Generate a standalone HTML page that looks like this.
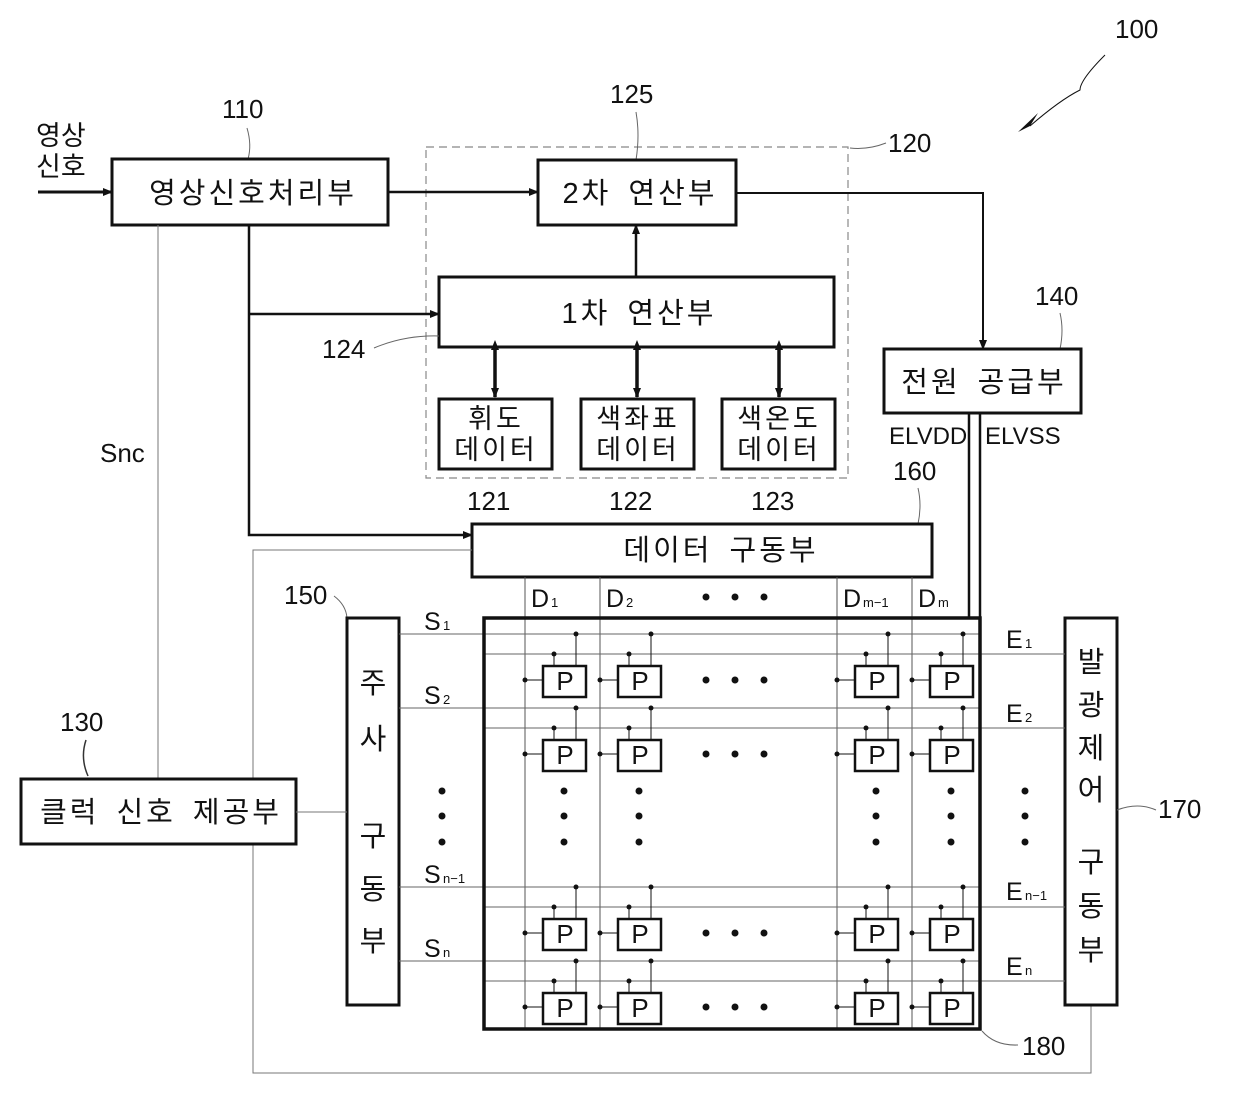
<!DOCTYPE html>
<html><head><meta charset="utf-8"><style>
body{margin:0;background:#fff}
svg{display:block}
text{font-family:"Liberation Sans","Noto Sans CJK KR","NanumGothic",sans-serif;fill:#111}
.k{letter-spacing:3px;word-spacing:6px}
</style></head><body>
<svg width="1240" height="1102" viewBox="0 0 1240 1102" xmlns="http://www.w3.org/2000/svg">
<defs>
<marker id="ar" markerWidth="10" markerHeight="8" refX="9" refY="4" orient="auto" markerUnits="userSpaceOnUse"><path d="M0,0 L10,4 L0,8 z" fill="#111"/></marker>
<marker id="ar2" markerWidth="10" markerHeight="8" refX="1" refY="4" orient="auto-start-reverse" markerUnits="userSpaceOnUse"><path d="M0,0 L10,4 L0,8 z" fill="#111"/></marker>
<g id="cell" stroke="#111" fill="none">
<line x1="51" y1="0" x2="51" y2="32" stroke-width="1"/>
<line x1="29" y1="20" x2="29" y2="32" stroke-width="1"/>
<line x1="0" y1="46" x2="18" y2="46" stroke-width="1"/>
<rect x="18" y="32" width="43" height="31" stroke-width="2.5" fill="#fff"/>
<circle cx="51" cy="0" r="2.5" fill="#111" stroke="none"/>
<circle cx="29" cy="20" r="2.5" fill="#111" stroke="none"/>
<circle cx="0" cy="46" r="2.5" fill="#111" stroke="none"/>
</g>
</defs>

<text x="1115" y="38" font-size="26">100</text>
<path d="M1105,55 Q1080,80 1080,90 Q1060,100 1030,126" stroke="#111" fill="none" stroke-width="1"/>
<path d="M1018,132 L1038,113 L1030,126 z" fill="#111"/>

<rect x="426" y="147" width="422" height="331" fill="none" stroke="#888" stroke-width="1.2" stroke-dasharray="8,5"/>
<text x="888" y="152" font-size="26">120</text>
<path d="M850,148 Q868,150 886,143" stroke="#666" fill="none" stroke-width="1"/>

<text x="36" y="145" font-size="27">영상</text>
<text x="36" y="176" font-size="27">신호</text>
<line x1="38" y1="192" x2="112" y2="192" stroke="#111" stroke-width="3" marker-end="url(#ar)"/>

<text x="222" y="118" font-size="26">110</text>
<path d="M247,128 Q252,145 248,159" stroke="#666" fill="none"/>
<rect x="112" y="159" width="276" height="66" fill="#fff" stroke="#111" stroke-width="3"/>
<text x="253" y="203" font-size="29" text-anchor="middle" class="k">영상신호처리부</text>

<text x="610" y="103" font-size="26">125</text>
<path d="M636,112 Q640,135 636,160" stroke="#666" fill="none"/>
<rect x="538" y="160" width="198" height="65" fill="#fff" stroke="#111" stroke-width="3"/>
<text x="640" y="203" font-size="29" text-anchor="middle" class="k">2차 연산부</text>
<line x1="388" y1="192" x2="538" y2="192" stroke="#111" stroke-width="2.5" marker-end="url(#ar)"/>

<polyline points="736,193 983,193 983,349" fill="none" stroke="#111" stroke-width="2" marker-end="url(#ar)"/>

<rect x="439" y="277" width="395" height="70" fill="#fff" stroke="#111" stroke-width="3"/>
<text x="639" y="323" font-size="29" text-anchor="middle" class="k">1차 연산부</text>
<line x1="636" y1="277" x2="636" y2="225" stroke="#111" stroke-width="2.5" marker-end="url(#ar)"/>
<text x="322" y="358" font-size="26">124</text>
<path d="M374,348 Q405,335 439,336" stroke="#666" fill="none"/>

<line x1="495" y1="349" x2="495" y2="397" stroke="#111" stroke-width="3.5" marker-start="url(#ar2)" marker-end="url(#ar)"/>
<line x1="637" y1="349" x2="637" y2="397" stroke="#111" stroke-width="3.5" marker-start="url(#ar2)" marker-end="url(#ar)"/>
<line x1="779" y1="349" x2="779" y2="397" stroke="#111" stroke-width="3.5" marker-start="url(#ar2)" marker-end="url(#ar)"/>

<rect x="439" y="399" width="113" height="70" fill="#fff" stroke="#111" stroke-width="3"/>
<text x="496" y="428" font-size="27" text-anchor="middle" class="k">휘도</text>
<text x="496" y="459" font-size="27" text-anchor="middle" class="k">데이터</text>
<rect x="581" y="399" width="113" height="70" fill="#fff" stroke="#111" stroke-width="3"/>
<text x="638" y="428" font-size="27" text-anchor="middle" class="k">색좌표</text>
<text x="638" y="459" font-size="27" text-anchor="middle" class="k">데이터</text>
<rect x="722" y="399" width="113" height="70" fill="#fff" stroke="#111" stroke-width="3"/>
<text x="779" y="428" font-size="27" text-anchor="middle" class="k">색온도</text>
<text x="779" y="459" font-size="27" text-anchor="middle" class="k">데이터</text>
<text x="467" y="510" font-size="26">121</text>
<text x="609" y="510" font-size="26">122</text>
<text x="751" y="510" font-size="26">123</text>

<polyline points="249,225 249,535 472,535" fill="none" stroke="#111" stroke-width="2.5" marker-end="url(#ar)"/>
<line x1="249" y1="314" x2="439" y2="314" stroke="#111" stroke-width="2.5" marker-end="url(#ar)"/>

<line x1="158" y1="225" x2="158" y2="779" stroke="#777" stroke-width="1"/>
<text x="100" y="462" font-size="26">Snc</text>

<text x="1035" y="305" font-size="26">140</text>
<path d="M1060,313 Q1064,330 1060,349" stroke="#666" fill="none"/>
<rect x="884" y="349" width="197" height="64" fill="#fff" stroke="#111" stroke-width="3"/>
<text x="984" y="392" font-size="29" text-anchor="middle" class="k">전원 공급부</text>
<text x="889" y="444" font-size="24">ELVDD</text>
<text x="985" y="444" font-size="24">ELVSS</text>
<line x1="969" y1="413" x2="969" y2="617" stroke="#111" stroke-width="2.5"/>
<line x1="980" y1="413" x2="980" y2="617" stroke="#111" stroke-width="2.5"/>

<text x="893" y="480" font-size="26">160</text>
<path d="M918,488 Q922,505 918,524" stroke="#666" fill="none"/>
<rect x="472" y="524" width="460" height="53" fill="#fff" stroke="#111" stroke-width="3"/>
<text x="721" y="560" font-size="29" text-anchor="middle" class="k">데이터 구동부</text>

<polyline points="472,550 253,550 253,1073 1091,1073 1091,1005" fill="none" stroke="#777" stroke-width="1"/>

<g stroke="#555" stroke-width="1">
<line x1="525" y1="577" x2="525" y2="1029"/>
<line x1="600" y1="577" x2="600" y2="1029"/>
<line x1="837" y1="577" x2="837" y2="1029"/>
<line x1="912" y1="577" x2="912" y2="1029"/>
</g>
<text x="531" y="607" font-size="25">D</text><text x="551" y="607" font-size="13">1</text>
<text x="606" y="607" font-size="25">D</text><text x="626" y="607" font-size="13">2</text>
<text x="843" y="607" font-size="25">D</text><text x="863" y="607" font-size="13">m−1</text>
<text x="918" y="607" font-size="25">D</text><text x="938" y="607" font-size="13">m</text>
<g fill="#111"><circle cx="706" cy="597" r="3.5"/><circle cx="735" cy="597" r="3.5"/><circle cx="764" cy="597" r="3.5"/></g>

<text x="284" y="604" font-size="26">150</text>
<path d="M334,596 Q346,605 347,618" stroke="#666" fill="none"/>
<rect x="347" y="618" width="52" height="387" fill="#fff" stroke="#111" stroke-width="3"/>
<g font-size="29" text-anchor="middle">
<text x="373" y="693">주</text><text x="373" y="749">사</text>
<text x="373" y="846">구</text><text x="373" y="899">동</text><text x="373" y="951">부</text>
</g>

<text x="60" y="731" font-size="26">130</text>
<path d="M86,740 Q80,758 88,776" stroke="#333" fill="none" stroke-width="1.5"/>
<rect x="21" y="779" width="275" height="65" fill="#fff" stroke="#111" stroke-width="3"/>
<text x="161" y="822" font-size="29" text-anchor="middle" class="k">클럭 신호 제공부</text>
<line x1="296" y1="812" x2="347" y2="812" stroke="#777" stroke-width="1"/>

<rect x="1065" y="618" width="52" height="387" fill="#fff" stroke="#111" stroke-width="3"/>
<g font-size="29" text-anchor="middle">
<text x="1091" y="672">발</text><text x="1091" y="715">광</text><text x="1091" y="758">제</text><text x="1091" y="800">어</text>
<text x="1091" y="872">구</text><text x="1091" y="916">동</text><text x="1091" y="960">부</text>
</g>
<text x="1158" y="818" font-size="26">170</text>
<path d="M1117,810 Q1138,802 1156,810" stroke="#666" fill="none"/>

<g stroke="#666" stroke-width="1">
<line x1="399" y1="634" x2="980" y2="634"/><line x1="484" y1="654" x2="1065" y2="654"/>
<line x1="399" y1="708" x2="980" y2="708"/><line x1="484" y1="728" x2="1065" y2="728"/>
<line x1="399" y1="887" x2="980" y2="887"/><line x1="484" y1="907" x2="1065" y2="907"/>
<line x1="399" y1="961" x2="980" y2="961"/><line x1="484" y1="981" x2="1065" y2="981"/>
</g>
<text x="424" y="630" font-size="25">S</text><text x="443" y="630" font-size="13">1</text>
<text x="424" y="704" font-size="25">S</text><text x="443" y="704" font-size="13">2</text>
<text x="424" y="883" font-size="25">S</text><text x="443" y="883" font-size="13">n−1</text>
<text x="424" y="957" font-size="25">S</text><text x="443" y="957" font-size="13">n</text>
<text x="1006" y="648" font-size="25">E</text><text x="1025" y="648" font-size="13">1</text>
<text x="1006" y="722" font-size="25">E</text><text x="1025" y="722" font-size="13">2</text>
<text x="1006" y="900" font-size="25">E</text><text x="1025" y="900" font-size="13">n−1</text>
<text x="1006" y="975" font-size="25">E</text><text x="1025" y="975" font-size="13">n</text>

<rect x="484" y="618" width="496" height="411" fill="none" stroke="#111" stroke-width="3.5"/>
<text x="1022" y="1055" font-size="26">180</text>
<path d="M982,1031 Q995,1046 1018,1045" stroke="#666" fill="none"/>

<use href="#cell" x="525" y="634"/><use href="#cell" x="600" y="634"/><use href="#cell" x="837" y="634"/><use href="#cell" x="912" y="634"/>
<use href="#cell" x="525" y="708"/><use href="#cell" x="600" y="708"/><use href="#cell" x="837" y="708"/><use href="#cell" x="912" y="708"/>
<use href="#cell" x="525" y="887"/><use href="#cell" x="600" y="887"/><use href="#cell" x="837" y="887"/><use href="#cell" x="912" y="887"/>
<use href="#cell" x="525" y="961"/><use href="#cell" x="600" y="961"/><use href="#cell" x="837" y="961"/><use href="#cell" x="912" y="961"/>
<g font-size="26" text-anchor="middle">
<text x="565" y="690">P</text><text x="640" y="690">P</text><text x="877" y="690">P</text><text x="952" y="690">P</text>
<text x="565" y="764">P</text><text x="640" y="764">P</text><text x="877" y="764">P</text><text x="952" y="764">P</text>
<text x="565" y="943">P</text><text x="640" y="943">P</text><text x="877" y="943">P</text><text x="952" y="943">P</text>
<text x="565" y="1017">P</text><text x="640" y="1017">P</text><text x="877" y="1017">P</text><text x="952" y="1017">P</text>
</g>
<g fill="#111">
<circle cx="706" cy="680" r="3.5"/><circle cx="735" cy="680" r="3.5"/><circle cx="764" cy="680" r="3.5"/>
<circle cx="706" cy="754" r="3.5"/><circle cx="735" cy="754" r="3.5"/><circle cx="764" cy="754" r="3.5"/>
<circle cx="706" cy="933" r="3.5"/><circle cx="735" cy="933" r="3.5"/><circle cx="764" cy="933" r="3.5"/>
<circle cx="706" cy="1007" r="3.5"/><circle cx="735" cy="1007" r="3.5"/><circle cx="764" cy="1007" r="3.5"/>
<circle cx="442" cy="791" r="3.5"/><circle cx="442" cy="816" r="3.5"/><circle cx="442" cy="842" r="3.5"/>
<circle cx="564" cy="791" r="3.5"/><circle cx="564" cy="816" r="3.5"/><circle cx="564" cy="842" r="3.5"/>
<circle cx="639" cy="791" r="3.5"/><circle cx="639" cy="816" r="3.5"/><circle cx="639" cy="842" r="3.5"/>
<circle cx="876" cy="791" r="3.5"/><circle cx="876" cy="816" r="3.5"/><circle cx="876" cy="842" r="3.5"/>
<circle cx="951" cy="791" r="3.5"/><circle cx="951" cy="816" r="3.5"/><circle cx="951" cy="842" r="3.5"/>
<circle cx="1025" cy="791" r="3.5"/><circle cx="1025" cy="816" r="3.5"/><circle cx="1025" cy="842" r="3.5"/>
</g>
</svg>
</body></html>
